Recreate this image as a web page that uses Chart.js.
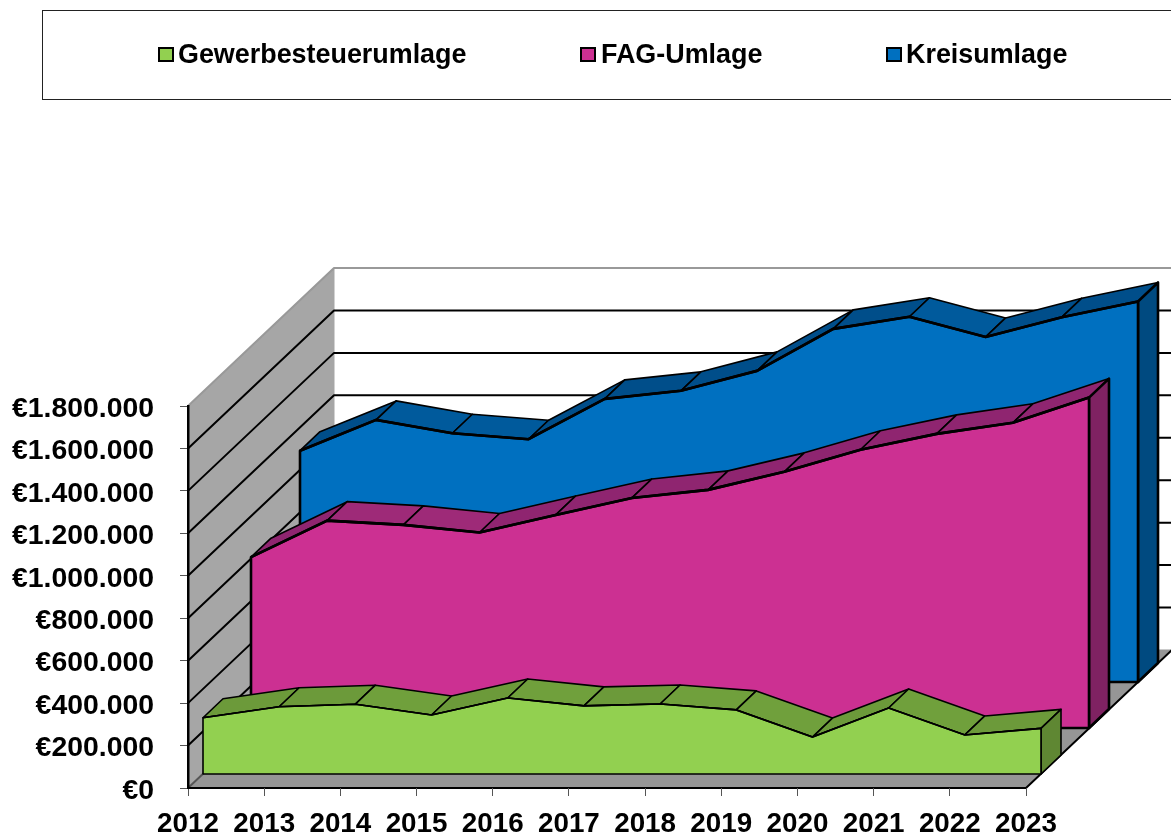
<!DOCTYPE html>
<html>
<head>
<meta charset="utf-8">
<title>Umlagen</title>
<script src="https://cdn.jsdelivr.net/npm/chart.js@4.4.1/dist/chart.umd.js"></script>
<style>
  html, body { margin: 0; padding: 0; background: #fff; overflow: hidden; }
  #wrap { position: relative; width: 1171px; height: 834px; overflow: hidden; }
  #legend { position: absolute; left: 42px; top: 10px; width: 1160px; height: 88px;
    border: 1px solid #222; font: bold 26.9px "Liberation Sans", Arial, sans-serif; color: #000; }
  #legend span { position: absolute; top: 26px; line-height: 34px; white-space: nowrap; }
  #legend i { position: absolute; top: 36px; width: 12px; height: 11px; border: 2.5px solid #000; }
</style>
</head>
<body>
<div id="wrap">
  <canvas id="myChart" width="1171" height="834"></canvas>
  <div id="legend"></div>
</div>
<script>
// Data
var years = ['2012', '2013', '2014', '2015', '2016', '2017', '2018', '2019', '2020', '2021', '2022', '2023'];
var seriesNames = ['Gewerbesteuerumlage', 'FAG-Umlage', 'Kreisumlage'];
var gewerbesteuer = [265000, 317000, 329000, 278000, 358000, 321000, 330000, 302000, 174000, 311000, 184000, 215000];
var fag = [805000, 977000, 957000, 921000, 1004000, 1084000, 1122000, 1207000, 1311000, 1386000, 1438000, 1557000];
var kreis = [1090000, 1235000, 1172000, 1144000, 1334000, 1372000, 1466000, 1664000, 1721000, 1626000, 1719000, 1793000];

// 3d look
var wallDepth = { x: 146, y: -138 };
var sliceDepth = { x: 20, y: -19 };
var sliceOffsets = [{ x: 15, y: -14 }, { x: 63, y: -60 }, { x: 112, y: -106 }];
var frontColors = ['#92D050', '#CC3092', '#0070C0'];
var topColors = ['#70A03C', '#9E2A78', '#005A9C'];
var risingColors = ['#6C9A3A', '#8F2570', '#004E8A'];
var sideColors = ['#5F8733', '#7F2262', '#004A80'];
var edgeWidths = [1.6, 2.6, 2.6];
var legendLeft = [115, 537, 843];
var legendText = [135, 558, 863];

function poly(ctx, pts, fill, stroke, width) {
  ctx.beginPath();
  ctx.moveTo(pts[0][0], pts[0][1]);
  for (var i = 1; i < pts.length; i++) ctx.lineTo(pts[i][0], pts[i][1]);
  ctx.closePath();
  ctx.fillStyle = fill;
  ctx.fill();
  ctx.strokeStyle = stroke;
  ctx.lineWidth = width;
  ctx.lineJoin = 'round';
  ctx.stroke();
}

// line controller that draws each series as a slab standing on the floor
class Area3d extends Chart.LineController {
  draw() {
    var ctx = this.chart.ctx;
    var meta = this.getMeta();
    var pts = meta.data;
    var n = this.index;
    var base = meta.vScale.getPixelForValue(0);
    var d = sliceDepth;
    ctx.save();
    ctx.translate(sliceOffsets[n].x, sliceOffsets[n].y);

    // top strip
    for (var i = 0; i < pts.length - 1; i++) {
      var a = pts[i], b = pts[i + 1];
      var color = b.y < a.y ? risingColors[n] : topColors[n];
      poly(ctx, [[a.x, a.y], [b.x, b.y], [b.x + d.x, b.y + d.y], [a.x + d.x, a.y + d.y]], color, '#000', 1.6);
    }
    // right side
    var last = pts[pts.length - 1];
    poly(ctx, [[last.x, last.y], [last.x + d.x, last.y + d.y], [last.x + d.x, base + d.y], [last.x, base]], sideColors[n], '#000', edgeWidths[n]);
    // front face
    var face = [[pts[0].x, base]];
    pts.forEach(function(p) { face.push([p.x, p.y]); });
    face.push([last.x, base]);
    poly(ctx, face, frontColors[n], '#000', edgeWidths[n]);

    super.draw();
    ctx.restore();
  }
}
Area3d.id = 'area3d';
Area3d.defaults = Chart.LineController.defaults;
Chart.register(Area3d);

// walls and floor, built from the value axis
var wallsPlugin = {
  id: 'walls',
  beforeDraw: function(chart) {
    var ctx = chart.ctx;
    var xs = chart.scales.x, ys = chart.scales.y;
    var l = xs.left, r = xs.right, t = ys.top, b = ys.bottom;
    var w = wallDepth;
    ctx.save();
    poly(ctx, [[l, t], [l + w.x, t + w.y], [l + w.x, b + w.y], [l, b]], '#A6A6A6', '#A6A6A6', 1);
    poly(ctx, [[l, b], [r, b], [r + w.x, b + w.y], [l + w.x, b + w.y]], '#969696', '#969696', 1);
    ys.ticks.forEach(function(tick, i) {
      var y = ys.getPixelForTick(i);
      var isTop = i === ys.ticks.length - 1;
      ctx.beginPath();
      ctx.moveTo(l, y);
      ctx.lineTo(l + w.x, y + w.y);
      if (i > 0) ctx.lineTo(r + w.x, y + w.y);
      ctx.strokeStyle = isTop ? '#999999' : (i === 0 ? '#555555' : '#000');
      ctx.lineWidth = 2;
      ctx.stroke();
    });
    // floor edges
    ctx.beginPath();
    ctx.moveTo(l, b);
    ctx.lineTo(r, b);
    ctx.lineTo(r + w.x, b + w.y);
    ctx.strokeStyle = '#000';
    ctx.lineWidth = 2;
    ctx.stroke();
    ctx.restore();
  }
};

var tickFont = { family: '"Liberation Sans", Arial, sans-serif', size: 27.8, weight: 'bold' };
var valueFont = { family: '"Liberation Sans", Arial, sans-serif', size: 28.4, weight: 'bold' };

// value labels sit a little under their ticks in the original
function nudgeLabels(scale) {
  if (scale._nudged) return;
  scale._nudged = true;
  var compute = scale._computeLabelItems;
  scale._computeLabelItems = function(area) {
    var items = compute.call(scale, area);
    items.forEach(function(item) { item.options.translation[1] += 3; });
    return items;
  };
}

var chart = new Chart(document.getElementById('myChart'), {
  type: 'area3d',
  data: {
    labels: years,
    datasets: [
      { label: seriesNames[0], data: gewerbesteuer },
      { label: seriesNames[1], data: fag },
      { label: seriesNames[2], data: kreis }
    ].map(function(ds, i) {
      ds.borderColor = '#000';
      ds.borderWidth = edgeWidths[i];
      ds.pointRadius = 0;
      ds.tension = 0;
      ds.fill = false;
      ds.clip = false;
      return ds;
    })
  },
  options: {
    responsive: false,
    animation: false,
    layout: { padding: { top: 406, right: 145, left: 0, bottom: 0 } },
    plugins: { legend: { display: false }, tooltip: { enabled: false } },
    scales: {
      x: {
        type: 'category',
        offset: false,
        afterFit: function(s) { s.height = 46; },
        grid: { drawOnChartArea: false, tickLength: 8, tickColor: '#555', tickWidth: 1 },
        border: { display: false },
        ticks: { font: tickFont, color: '#000', padding: 12, maxRotation: 0, autoSkip: false }
      },
      y: {
        min: 0,
        max: 1800000,
        afterFit: function(s) { s.width = 188; },
        afterUpdate: nudgeLabels,
        grid: { drawOnChartArea: false, tickLength: 8, tickColor: '#555', tickWidth: 1 },
        border: { color: '#000', width: 2.5 },
        ticks: {
          stepSize: 200000,
          autoSkip: false,
          font: valueFont,
          color: '#000',
          padding: 26,
          callback: function(v) { return '€' + String(v).replace(/\B(?=(\d{3})+$)/g, '.'); }
        }
      }
    }
  },
  plugins: [wallsPlugin]
});

// legend, one entry per dataset
var legend = document.getElementById('legend');
chart.data.datasets.forEach(function(ds, i) {
  var box = document.createElement('i');
  box.style.left = legendLeft[i] + 'px';
  box.style.background = frontColors[i];
  legend.appendChild(box);
  var txt = document.createElement('span');
  txt.style.left = legendText[i] + 'px';
  txt.textContent = ds.label;
  legend.appendChild(txt);
});
</script>
</body>
</html>
